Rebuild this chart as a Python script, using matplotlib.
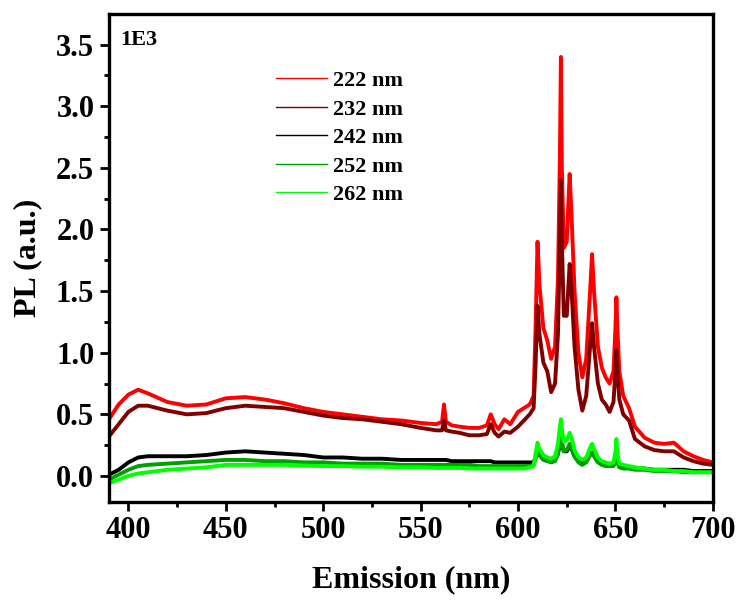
import numpy as np
import matplotlib.pyplot as plt

plt.rcParams['font.family'] = ['Liberation Serif', 'DejaVu Serif']
plt.rcParams['font.weight'] = 'bold'

# wavelength grid (nm)
wl = [390, 395, 400, 405, 410, 420, 430, 440, 450, 460,
      470, 480, 490, 500, 510, 520, 530, 540, 550, 558,
      561, 562, 563, 566, 570, 575, 580, 584, 586, 588,
      590, 593, 596, 600, 603, 606, 608, 609, 610, 611,
      613, 615, 617, 619, 620.5, 621.5, 622, 622.5, 623.5, 625,
      626.5, 627.5, 629, 631, 633, 635, 637, 638, 639, 641,
      643, 645, 647, 649, 650, 650.5, 651, 652, 654, 657,
      660, 665, 670, 675, 680, 685, 690, 695, 700]

pl_222 = [0.46, 0.58, 0.66, 0.70, 0.67, 0.60, 0.57, 0.58, 0.63, 0.64,
          0.62, 0.59, 0.55, 0.52, 0.50, 0.48, 0.46, 0.45, 0.43, 0.42,
          0.44, 0.58, 0.44, 0.41, 0.40, 0.39, 0.39, 0.41, 0.50, 0.42,
          0.38, 0.46, 0.42, 0.52, 0.55, 0.58, 0.65, 1.20, 1.90, 1.55,
          1.20, 1.10, 0.95, 1.05, 1.60, 2.60, 3.40, 2.50, 1.85, 1.90,
          2.45, 2.10, 1.50, 1.00, 0.80, 0.95, 1.50, 1.80, 1.50, 1.05,
          0.88, 0.80, 0.75, 0.85, 1.20, 1.45, 1.20, 0.85, 0.65, 0.55,
          0.40, 0.31, 0.27, 0.26, 0.27, 0.20, 0.16, 0.13, 0.11]

pl_232 = [0.32, 0.42, 0.52, 0.57, 0.57, 0.53, 0.50, 0.51, 0.55, 0.57,
          0.56, 0.55, 0.52, 0.49, 0.47, 0.46, 0.44, 0.42, 0.39, 0.37,
          0.37, 0.45, 0.37, 0.36, 0.35, 0.33, 0.33, 0.34, 0.42, 0.35,
          0.32, 0.36, 0.35, 0.40, 0.45, 0.50, 0.55, 0.90, 1.38, 1.15,
          0.92, 0.85, 0.68, 0.75, 1.15, 1.90, 2.40, 1.90, 1.30, 1.30,
          1.72, 1.50, 1.05, 0.70, 0.53, 0.65, 1.05, 1.24, 1.05, 0.75,
          0.62, 0.58, 0.52, 0.60, 0.85, 1.02, 0.85, 0.62, 0.50, 0.45,
          0.30, 0.24, 0.21, 0.20, 0.20, 0.15, 0.12, 0.10, 0.09]

pl_242 = [0.01, 0.05, 0.11, 0.15, 0.16, 0.16, 0.16, 0.17, 0.19, 0.20,
          0.19, 0.18, 0.17, 0.15, 0.15, 0.14, 0.14, 0.13, 0.13, 0.13,
          0.13, 0.13, 0.13, 0.12, 0.12, 0.12, 0.12, 0.12, 0.12, 0.11,
          0.11, 0.11, 0.11, 0.11, 0.11, 0.11, 0.11, 0.15, 0.19, 0.17,
          0.14, 0.13, 0.12, 0.13, 0.18, 0.26, 0.31, 0.26, 0.20, 0.20,
          0.24, 0.22, 0.16, 0.12, 0.10, 0.12, 0.17, 0.19, 0.17, 0.12,
          0.10, 0.09, 0.09, 0.09, 0.11, 0.13, 0.11, 0.08, 0.07, 0.07,
          0.06, 0.06, 0.05, 0.05, 0.05, 0.05, 0.04, 0.04, 0.04]

pl_252 = [-0.03, 0.01, 0.05, 0.08, 0.09, 0.10, 0.11, 0.12, 0.13, 0.13,
          0.12, 0.12, 0.11, 0.11, 0.10, 0.10, 0.10, 0.09, 0.09, 0.09,
          0.09, 0.09, 0.09, 0.09, 0.09, 0.09, 0.08, 0.08, 0.08, 0.08,
          0.08, 0.08, 0.08, 0.08, 0.08, 0.08, 0.09, 0.14, 0.20, 0.17,
          0.13, 0.12, 0.11, 0.12, 0.18, 0.28, 0.34, 0.28, 0.20, 0.21,
          0.26, 0.23, 0.16, 0.11, 0.09, 0.11, 0.17, 0.19, 0.16, 0.11,
          0.09, 0.08, 0.08, 0.08, 0.12, 0.16, 0.11, 0.07, 0.06, 0.06,
          0.05, 0.05, 0.04, 0.04, 0.04, 0.03, 0.03, 0.03, 0.03]

pl_262 = [-0.06, -0.03, 0.00, 0.02, 0.03, 0.05, 0.06, 0.07, 0.09, 0.09,
          0.09, 0.09, 0.085, 0.08, 0.08, 0.075, 0.075, 0.07, 0.07, 0.065,
          0.065, 0.065, 0.065, 0.065, 0.065, 0.06, 0.06, 0.06, 0.06, 0.06,
          0.06, 0.06, 0.06, 0.06, 0.06, 0.07, 0.08, 0.18, 0.27, 0.22,
          0.17, 0.15, 0.14, 0.16, 0.26, 0.40, 0.46, 0.38, 0.28, 0.29,
          0.35, 0.31, 0.21, 0.15, 0.13, 0.15, 0.23, 0.26, 0.22, 0.15,
          0.12, 0.11, 0.10, 0.11, 0.20, 0.30, 0.18, 0.10, 0.09, 0.08,
          0.07, 0.06, 0.05, 0.05, 0.04, 0.04, 0.03, 0.03, 0.03]

labels = ['222 nm', '232 nm', '242 nm', '252 nm', '262 nm']
colors = ['#ff0000', '#800000', '#000000', '#00a000', '#00ff00']
series = [pl_222, pl_232, pl_242, pl_252, pl_262]

fig = plt.figure(figsize=(7.41, 6.01), dpi=100)
ax = fig.add_axes([0.147, 0.165, 0.815, 0.812])

for y, c, lab in zip(series, colors, labels):
    ax.plot(wl, y, color=c, lw=2.8, label=lab)

ax.set_xlim(390, 700)
ax.set_ylim(-0.21, 3.75)
ax.set_xticks([400, 450, 500, 550, 600, 650, 700])
ax.set_xticks(np.arange(425, 700, 50), minor=True)
ax.set_yticks([0.0, 0.5, 1.0, 1.5, 2.0, 2.5, 3.0, 3.5])
ax.set_yticks(np.arange(0.25, 3.75, 0.5), minor=True)
ax.set_yticklabels(['0.0', '0.5', '1.0', '1.5', '2.0', '2.5', '3.0', '3.5'])

for s in ax.spines.values():
    s.set_linewidth(2.4)
ax.tick_params(which='major', direction='out', length=6.5, width=2, labelsize=22, pad=4)
ax.tick_params(which='minor', direction='out', length=3.5, width=2)

ax.set_xlabel('Emission (nm)', fontsize=23, fontweight='bold', labelpad=14)
ax.set_ylabel('PL (a.u.)', fontsize=23, fontweight='bold', labelpad=10)

ax.text(0.018, 0.967, '1E3', transform=ax.transAxes, fontsize=16,
        fontweight='bold', va='top', ha='left')

leg = ax.legend(loc='upper left', bbox_to_anchor=(0.243, 0.925), frameon=False,
                fontsize=16, handlelength=2.3, handletextpad=0.3, labelspacing=0.36)
for h in leg.get_lines():
    h.set_linewidth(1.0)

fig.savefig('out.png', dpi=100)
